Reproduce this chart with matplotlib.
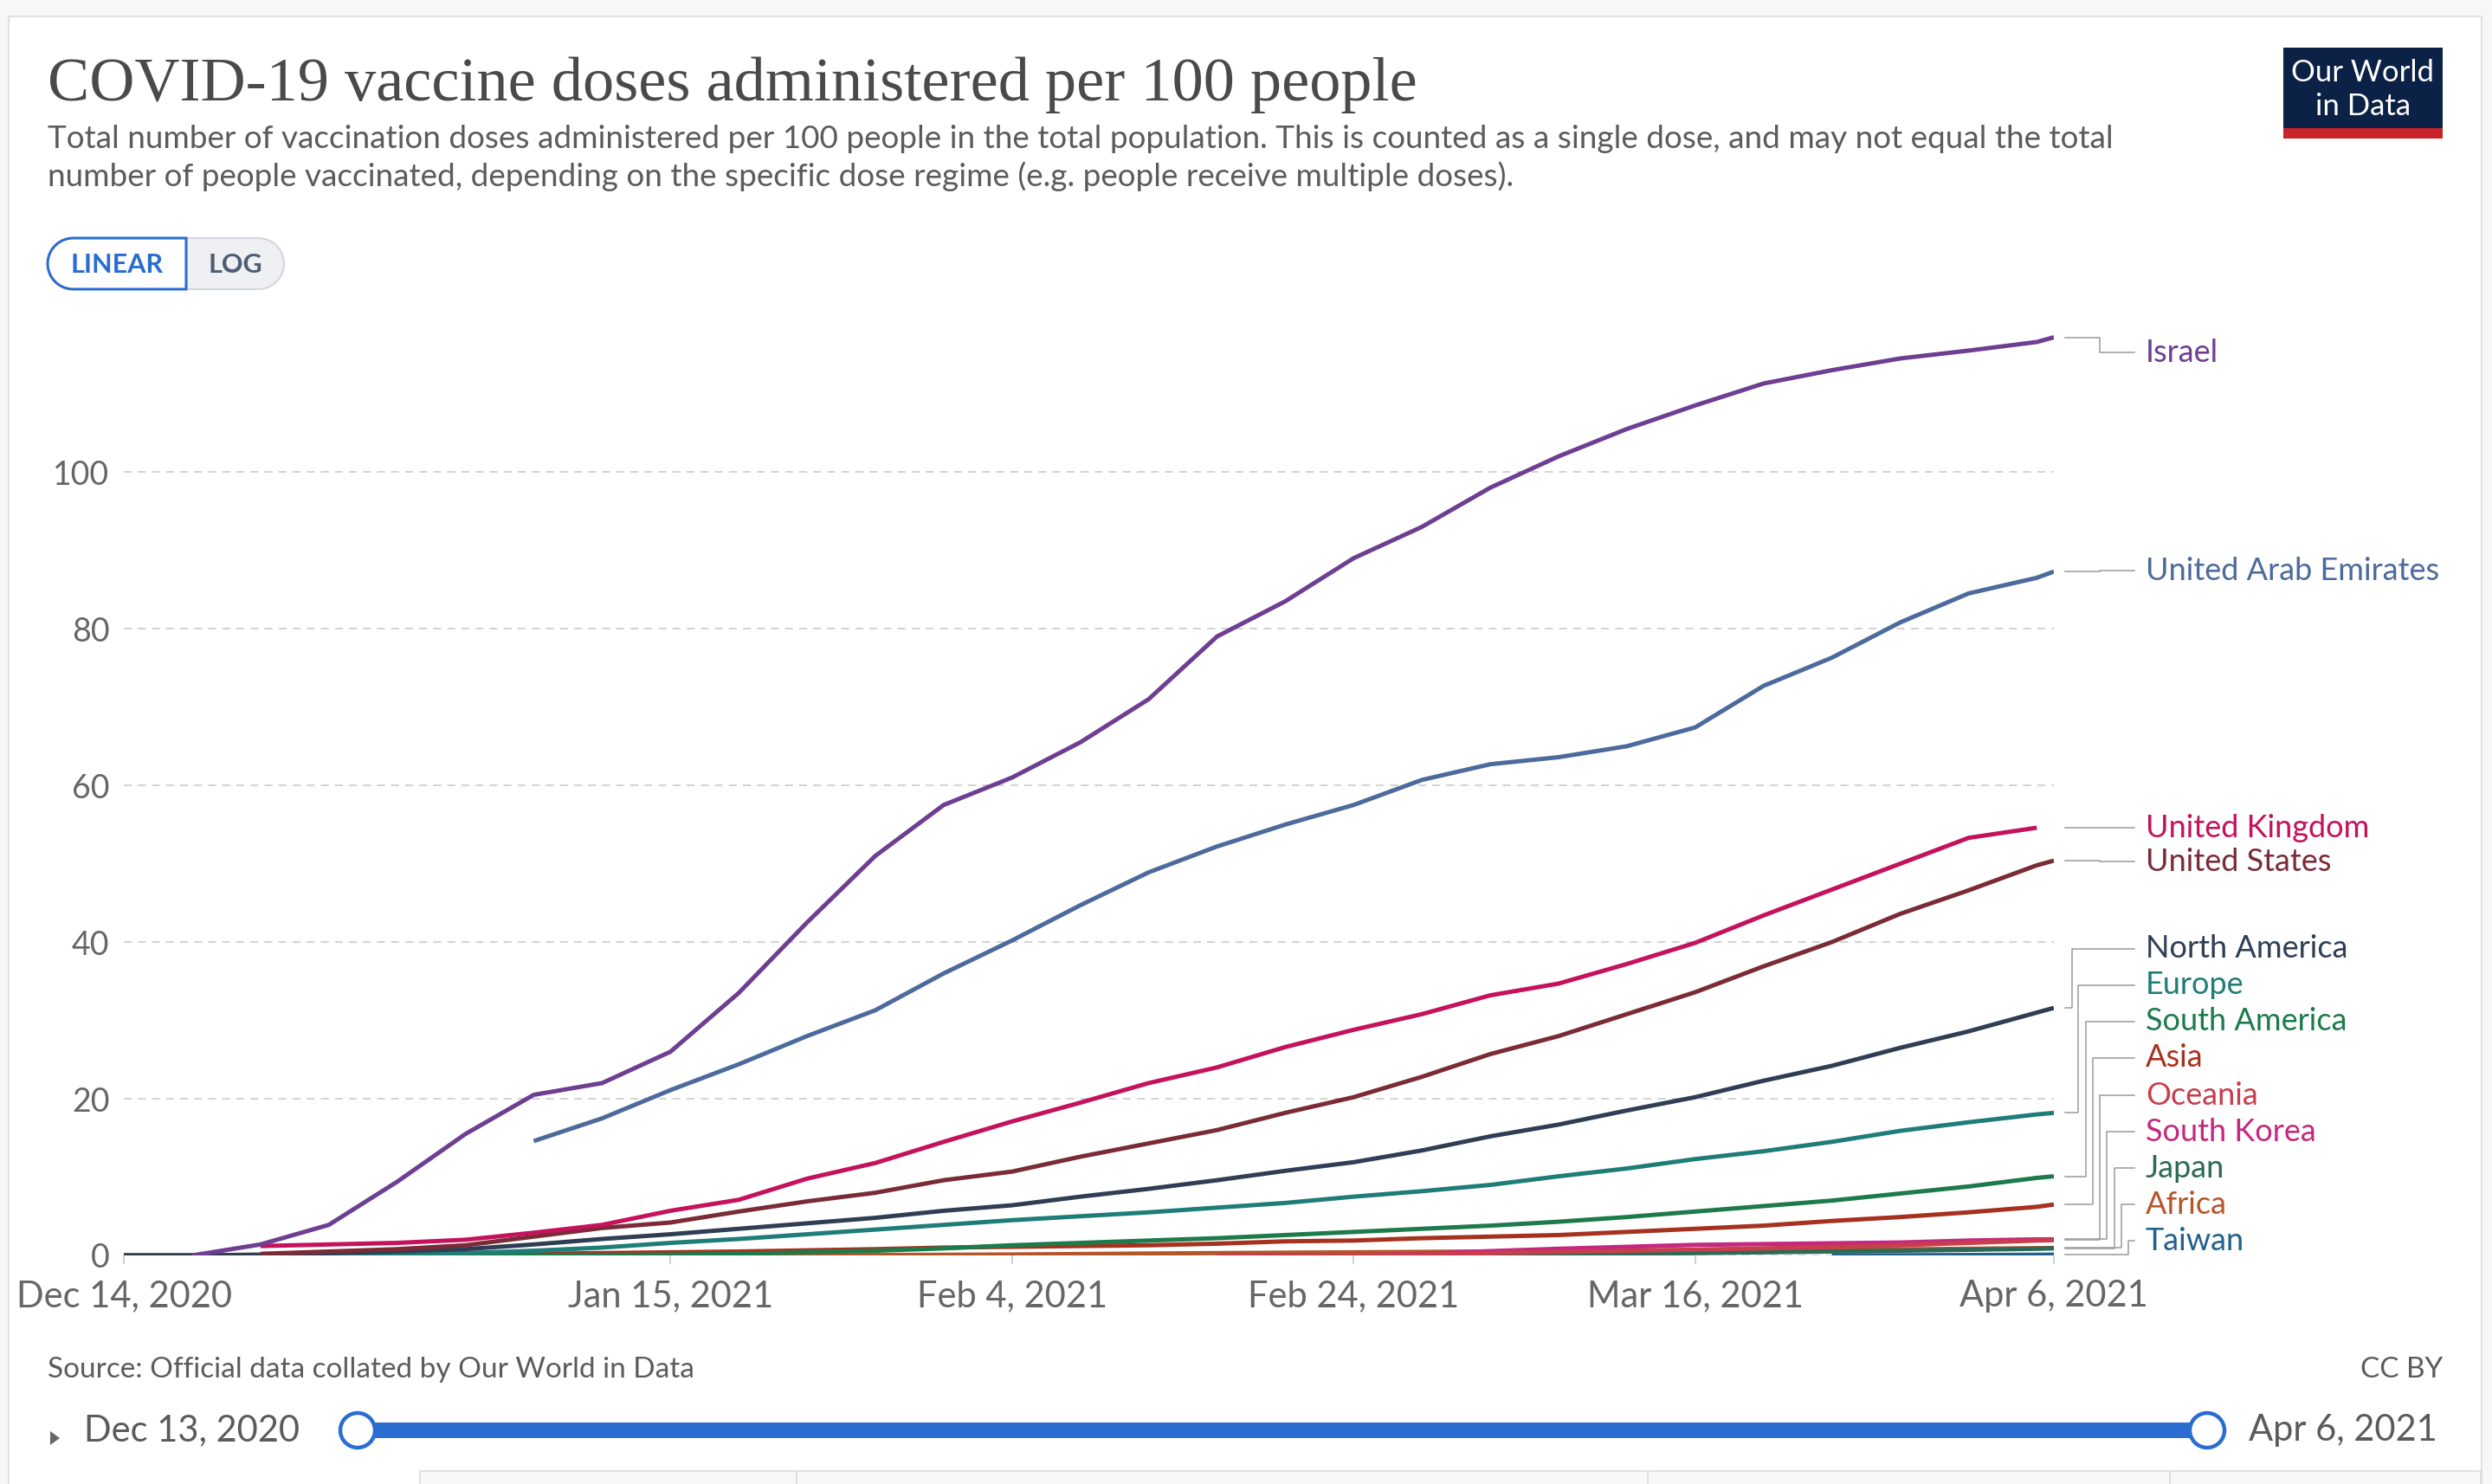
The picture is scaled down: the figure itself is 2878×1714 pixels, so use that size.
import numpy as np
import pandas as pd
import matplotlib
matplotlib.use("Agg")
import matplotlib.pyplot as plt
from matplotlib.patches import Rectangle, Circle, Polygon

W, H = 2878, 1714
N = float("nan")

# every 4 days, Dec 14 2020 .. Apr 6 2021
DATES = ["2020-12-14", "2020-12-18", "2020-12-22", "2020-12-26", "2020-12-30",
         "2021-01-03", "2021-01-07", "2021-01-11", "2021-01-15", "2021-01-19",
         "2021-01-23", "2021-01-27", "2021-01-31", "2021-02-04", "2021-02-08",
         "2021-02-12", "2021-02-16", "2021-02-20", "2021-02-24", "2021-02-28",
         "2021-03-04", "2021-03-08", "2021-03-12", "2021-03-16", "2021-03-20",
         "2021-03-24", "2021-03-28", "2021-04-01", "2021-04-05", "2021-04-06"]

ISRAEL = [N, 0.0, 1.4, 3.9, 9.4, 15.5, 20.5, 22.0, 26.0, 33.5, 42.5, 51.0, 57.5, 61.0, 65.5,
          71.0, 79.0, 83.5, 89.0, 93.0, 98.0, 102.0, 105.5, 108.5, 111.3, 113.0, 114.5, 115.5, 116.6, 117.2]
UAE = [N, N, N, N, N, N, 14.6, 17.5, 21.1, 24.4, 28.0, 31.3, 36.0, 40.2, 44.7,
       48.9, 52.2, 55.0, 57.5, 60.7, 62.7, 63.6, 65.0, 67.4, 72.7, 76.3, 80.8, 84.5, 86.5, 87.3]
UK = [N, N, 1.2, 1.4, 1.6, 2.0, 2.9, 3.9, 5.7, 7.1, 9.8, 11.8, 14.5, 17.1, 19.5,
      22.0, 24.0, 26.6, 28.8, 30.8, 33.2, 34.7, 37.2, 39.9, 43.4, 46.7, 50.0, 53.3, 54.6, N]
US = [N, N, 0.2, 0.5, 0.8, 1.3, 2.4, 3.5, 4.2, 5.6, 6.9, 8.0, 9.6, 10.7, 12.6,
      14.3, 16.0, 18.2, 20.2, 22.8, 25.7, 28.0, 30.8, 33.6, 36.9, 40.0, 43.6, 46.6, 49.8, 50.4]
NORTH_AMERICA = [0.0, 0.0, 0.1, 0.3, 0.5, 0.8, 1.4, 2.1, 2.7, 3.4, 4.1, 4.8, 5.7, 6.4, 7.5,
                 8.5, 9.6, 10.8, 11.9, 13.4, 15.2, 16.7, 18.5, 20.2, 22.3, 24.2, 26.5, 28.6, 31.0, 31.6]
EUROPE = [0.0, 0.0, 0.0, 0.02, 0.1, 0.3, 0.6, 1.0, 1.6, 2.1, 2.7, 3.3, 3.9, 4.5, 5.0,
          5.5, 6.1, 6.7, 7.5, 8.2, 9.0, 10.1, 11.1, 12.3, 13.3, 14.5, 15.9, 17.0, 18.0, 18.2]
SOUTH_AMERICA = [N, N, N, 0.0, 0.0, 0.01, 0.02, 0.05, 0.1, 0.2, 0.4, 0.6, 0.9, 1.3, 1.6,
                 1.9, 2.2, 2.6, 3.0, 3.4, 3.8, 4.3, 4.9, 5.6, 6.3, 7.0, 7.9, 8.8, 9.9, 10.1]
ASIA = [0.0, 0.0, 0.05, 0.08, 0.1, 0.12, 0.2, 0.3, 0.4, 0.5, 0.65, 0.8, 1.0, 1.1, 1.2,
        1.3, 1.5, 1.8, 1.9, 2.2, 2.4, 2.6, 3.0, 3.4, 3.8, 4.4, 4.9, 5.5, 6.2, 6.5]
OCEANIA = [N, N, N, N, N, N, N, N, N, N, N, N, N, N, N,
           N, 0.0, 0.01, 0.05, 0.15, 0.3, 0.45, 0.6, 0.75, 0.9, 1.1, 1.3, 1.6, 1.9, 1.95]
SOUTH_KOREA = [N, N, N, N, N, N, N, N, N, N, N, N, N, N, N,
               N, N, N, 0.0, 0.2, 0.55, 0.85, 1.1, 1.35, 1.45, 1.55, 1.65, 1.9, 2.05, 2.05]
JAPAN = [N, N, N, N, N, N, N, N, N, N, N, N, N, N, N,
         N, 0.0, 0.01, 0.03, 0.05, 0.08, 0.12, 0.2, 0.3, 0.4, 0.5, 0.6, 0.72, 0.85, 0.9]
AFRICA = [N, N, N, N, N, N, N, 0.0, 0.01, 0.02, 0.03, 0.05, 0.08, 0.12, 0.18,
          0.24, 0.3, 0.35, 0.4, 0.45, 0.5, 0.52, 0.56, 0.6, 0.66, 0.72, 0.78, 0.85, 0.93, 0.95]
TAIWAN = [N, N, N, N, N, N, N, N, N, N, N, N, N, N, N,
          N, N, N, N, N, N, N, N, N, N, 0.0, 0.02, 0.05, 0.08, 0.1]

SERIES = [
    ("Israel", ISRAEL, "#6D3E91"),
    ("United Arab Emirates", UAE, "#4C6A9C"),
    ("United Kingdom", UK, "#C4125C"),
    ("United States", US, "#7A2B36"),
    ("North America", NORTH_AMERICA, "#2F3E55"),
    ("Europe", EUROPE, "#1F7D78"),
    ("South America", SOUTH_AMERICA, "#1D7B4B"),
    ("Asia", ASIA, "#A7311F"),
    ("Oceania", OCEANIA, "#C83E4D"),
    ("South Korea", SOUTH_KOREA, "#C4287F"),
    ("Japan", JAPAN, "#2C6A57"),
    ("Africa", AFRICA, "#B5562A"),
    ("Taiwan", TAIWAN, "#22608D"),
]

TICK_DATES = ["2020-12-14", "2021-01-15", "2021-02-04", "2021-02-24", "2021-03-16", "2021-04-06"]
TICK_LABELS = ["Dec 14, 2020", "Jan 15, 2021", "Feb 4, 2021", "Feb 24, 2021", "Mar 16, 2021", "Apr 6, 2021"]
Y_TICKS = [0, 20, 40, 60, 80, 100]

# label layout (pixels): text y and connector elbow x
LABEL_Y = [407, 659, 956, 995, 1096, 1138, 1180, 1222, 1265, 1307, 1349, 1391, 1433]
ELBOW_X = [2425, 2425, 2425, 2425, 2393, 2400, 2409, 2417, 2425, 2433, 2442, 2450, 2458]

SANS = ["Lato", "DejaVu Sans"]
GREY = "#5b5b5b"
BLUE = "#2A6CD0"


def pill(x0, x1, y0, y1, left=True, right=True, n=24):
    r = (y1 - y0) / 2
    cy = (y0 + y1) / 2
    pts = []
    if right:
        t = np.linspace(-np.pi / 2, np.pi / 2, n)
        pts += list(zip(x1 - r + r * np.cos(t), cy + r * np.sin(t)))
    else:
        pts += [(x1, y0), (x1, y1)]
    if left:
        t = np.linspace(np.pi / 2, 3 * np.pi / 2, n)
        pts += list(zip(x0 + r + r * np.cos(t), cy + r * np.sin(t)))
    else:
        pts += [(x0, y1), (x0, y0)]
    return pts


fig = plt.figure(figsize=(W / 100, H / 100), dpi=100, facecolor="#f7f7f7")

ov = fig.add_axes([0, 0, 1, 1])
ov.set_xlim(0, W)
ov.set_ylim(H, 0)
ov.axis("off")
ov.set_zorder(0)
ov.add_patch(Rectangle((10, 19), 2856, H, fc="white", ec="#dcdcdc", lw=1.2))

# plot area
ax = fig.add_axes([143 / W, 1 - 1450 / H, (2372 - 143) / W, (1450 - 319) / H])
ax.set_zorder(1)
ax.patch.set_alpha(0)
x = pd.to_datetime(DATES)
ax.set_xlim(x[0], x[-1])
ax.set_ylim(0, 125)
for v in Y_TICKS:
    ax.axhline(v, color="#cfcfcf", lw=1.3, ls=(0, (5, 4)), zorder=0)
for name, vals, color in SERIES[::-1]:
    ax.plot(x, vals, color=color, lw=3.6, solid_joinstyle="round", solid_capstyle="butt", zorder=2)
for s in ax.spines.values():
    s.set_visible(False)
ax.set_yticks(Y_TICKS)
ax.set_yticklabels([str(v) for v in Y_TICKS], fontsize=27, color="#666666", family=SANS)
ax.tick_params(axis="y", length=0, pad=12)
ax.set_xticks(pd.to_datetime(TICK_DATES))
ax.set_xticklabels(TICK_LABELS, fontsize=30, color="#666666", family=SANS)
ax.tick_params(axis="x", length=7, width=1.2, color="#c8c8c8", pad=13)

# end labels with connectors
for (name, vals, color), ly, ex in zip(SERIES, LABEL_Y, ELBOW_X):
    idx = max(i for i, v in enumerate(vals) if v == v)
    ey = H - ax.transData.transform((matplotlib.dates.date2num(x[idx]), vals[idx]))[1]
    ov.plot([2385, ex, ex, 2465], [ey, ey, ly, ly], color="#9a9a9a", lw=1.1, zorder=3)
    ov.text(2478, ly, name, color=color, fontsize=26, family=SANS, va="center", ha="left")

# header
ov.text(55, 116, "COVID-19 vaccine doses administered per 100 people", fontsize=52,
        family=["Liberation Serif", "DejaVu Serif"], color="#4a4a4a", va="baseline")
ov.text(55, 160, "Total number of vaccination doses administered per 100 people in the total population. "
        "This is counted as a single dose, and may not equal the total", fontsize=26.6,
        family=SANS, color=GREY, va="center")
ov.text(55, 204, "number of people vaccinated, depending on the specific dose regime "
        "(e.g. people receive multiple doses).", fontsize=26.6, family=SANS, color=GREY, va="center")

# logo
ov.add_patch(Rectangle((2637, 55), 184, 93, fc="#0b2145", ec="none"))
ov.add_patch(Rectangle((2637, 148), 184, 12, fc="#c8232b", ec="none"))
ov.text(2729, 84, "Our World", fontsize=25, family=SANS, color="white", ha="center", va="center")
ov.text(2729, 123, "in Data", fontsize=25, family=SANS, color="white", ha="center", va="center")

# linear / log toggle
ov.add_patch(Polygon(pill(55, 328, 275, 334), closed=True, fc="#eef0f3", ec="#d3d7dd", lw=1.5))
ov.add_patch(Polygon(pill(55, 215, 275, 334, right=False), closed=True, fc="white", ec=BLUE, lw=2.2))
ov.text(135, 306, "LINEAR", fontsize=22, fontweight="bold", family=SANS, color=BLUE,
        ha="center", va="center")
ov.text(272, 306, "LOG", fontsize=22, fontweight="bold", family=SANS, color="#4e5d73",
        ha="center", va="center")

# footer
ov.text(55, 1582, "Source: Official data collated by Our World in Data", fontsize=24,
        family=SANS, color=GREY, va="center")
ov.text(2821, 1582, "CC BY", fontsize=24, family=SANS, color=GREY, va="center", ha="right")

# time slider
ov.add_patch(Polygon([(58, 1653), (58, 1669), (69, 1661)], closed=True, fc="#666666", ec="none"))
ov.text(97, 1652, "Dec 13, 2020", fontsize=30, family=SANS, color=GREY, va="center")
ov.text(2597, 1652, "Apr 6, 2021", fontsize=30, family=SANS, color=GREY, va="center")
ov.add_patch(Rectangle((413, 1643), 2549 - 413, 18, fc=BLUE, ec="none"))
for cx in (413, 2549):
    ov.add_patch(Circle((cx, 1652), 20, fc="white", ec=BLUE, lw=3.2, zorder=4))

# tab strip at the bottom
ov.add_patch(Rectangle((485, 1699), 2865 - 485, 30, fc="#f7f8fa", ec="#dcdcdc", lw=1.2))
for dx in (920, 1903, 2506):
    ov.plot([dx, dx], [1699, H], color="#dcdcdc", lw=1.2)

fig.savefig("out.png", dpi=100, facecolor=fig.get_facecolor())
